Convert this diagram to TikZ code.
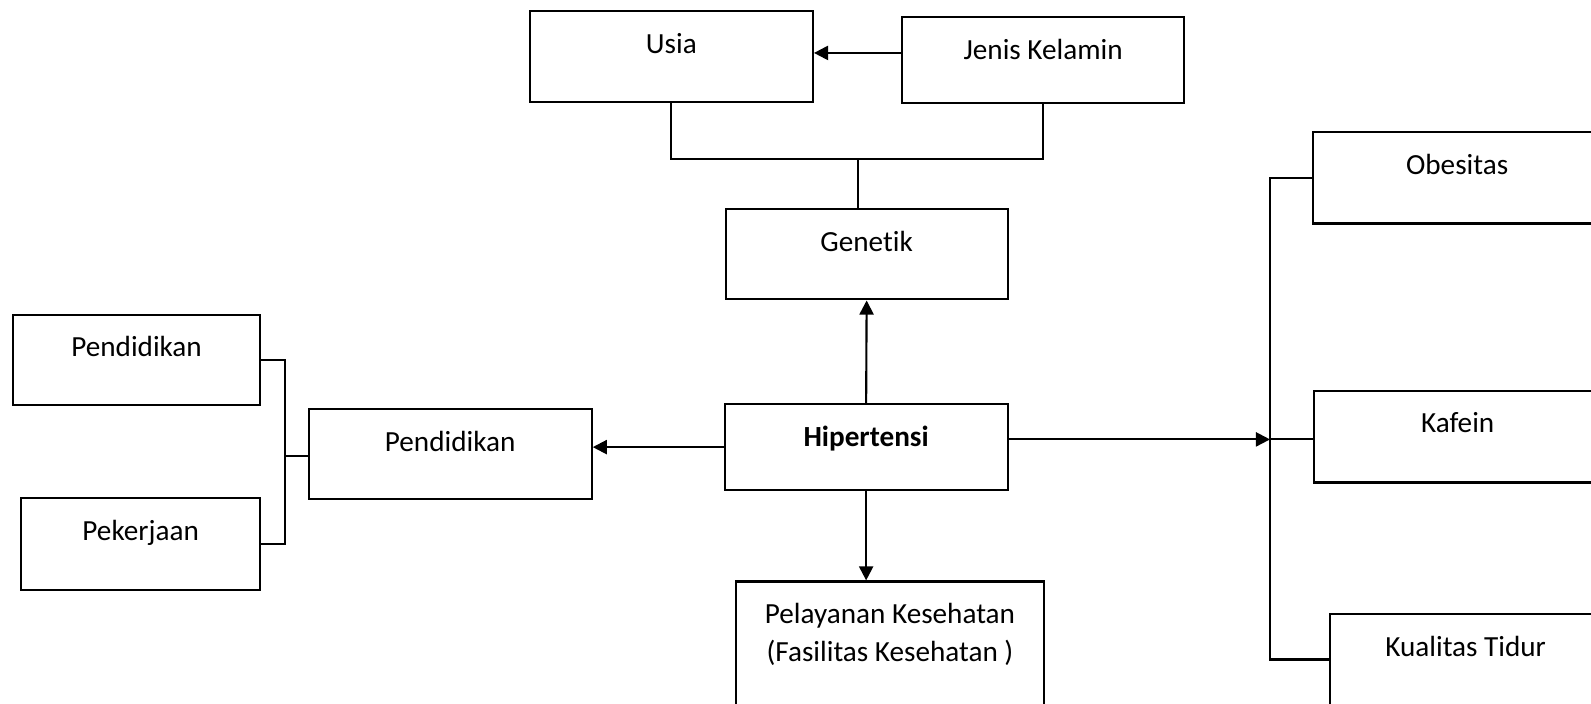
\documentclass[tikz,border=0pt]{standalone}
\usepackage{fontspec}
\setmainfont[Ligatures=NoCommon]{Carlito}
\usetikzlibrary{arrows.meta,positioning,calc}

\begin{document}
\begin{tikzpicture}[x=0.01cm, y=-0.01cm,
    box/.style={draw, line width=0.6pt, inner sep=0pt, anchor=north west, align=center, text height=12pt},
    arr/.style={-{Triangle[length=4pt,width=4pt]}, line width=0.6pt},
    link/.style={line width=0.6pt},
    font=\fontsize{8.3}{10.7}\selectfont
]
\useasboundingbox (0,0) rectangle (1591,703);
\clip (0,0) rectangle (1591,703);

\node[box, minimum width=2.83cm, text depth=13.8pt] (usia) at (528.7,10.1) {Usia};
\node[box, minimum width=2.82cm, text depth=12.3pt] (jk) at (901,16.2) {Jenis Kelamin};
\node[box, minimum width=2.82cm, text depth=13.7pt] (gen) at (724.5,208) {Genetik};
\node[box, minimum width=2.83cm, text depth=12.6pt, font=\fontsize{8.3}{10.7}\selectfont\bfseries] (hip) at (723.5,402.8) {Hipertensi};
\node[box, minimum width=2.83cm, text depth=13.5pt] (pend) at (307.5,407.9) {Pendidikan};
\node[box, minimum width=2.465cm, text depth=13.8pt] (pdl) at (12.2,313.5) {Pendidikan};
\node[box, minimum width=2.384cm, text depth=14.0pt] (pkj) at (20.3,497.2) {Pekerjaan};
\node[box, minimum width=3.084cm, text height=22.7pt, text depth=22.8pt] (pel) at (734.6,580.4) {Pelayanan Kesehatan\\(Fasilitas Kesehatan )};
\node[box, minimum width=2.88cm, text depth=14.0pt] (obes) at (1312,131) {Obesitas};
\node[box, minimum width=2.87cm, text depth=14.1pt] (kaf) at (1313,389.6) {Kafein};
\node[box, minimum width=2.71cm, text depth=24.2pt] (kual) at (1329,613) {Kualitas Tidur};

\coordinate (gj) at (858,158.8);
\coordinate (lj) at (285,455.6);
\coordinate (rj) at (1270,439.4);
\coordinate (kt) at (1329,659.5);

\draw[arr] ([yshift=2pt]jk.west) -- ([yshift=2pt]usia.east |- jk.west);
\draw[link] (usia.south) |- (gj) -| (jk.south);
\draw[link] (gj) -- (gj |- gen.north);
\draw[arr] (hip.north) -- (gen.south);
\draw[arr] (hip.south) -- (hip.south |- pel.north);
\draw[arr] (hip.west) -- (hip.west -| pend.east);
\draw[link] (pdl.east) -| (lj) |- (pkj.east);
\draw[link] (lj) -- (lj -| pend.west);
\draw[arr] (hip.east |- rj) -- (rj);
\draw[link] (obes.west) -| (rj) |- (kt);
\draw[link] (rj) -- (rj -| kaf.west);
\end{tikzpicture}
\end{document}
